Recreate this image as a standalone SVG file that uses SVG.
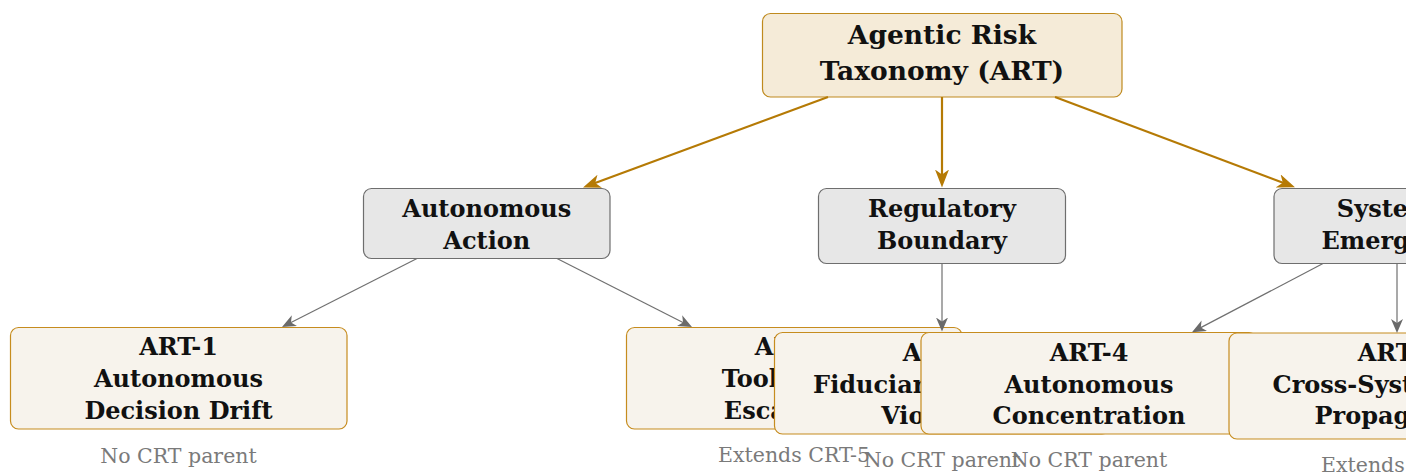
<svg xmlns="http://www.w3.org/2000/svg" width="1406" height="472" viewBox="0 0 1406 472">
  <style>
    .root-box { fill: #F5EBD8; stroke: #BF8A1E; stroke-width: 1.2; }
    .cat-box  { fill: #E7E7E7; stroke: #6E6E6E; stroke-width: 1.2; }
    .risk-box { fill: #F7F3EC; stroke: #C68C1E; stroke-width: 1.2; }
    .title { font-family: "DejaVu Serif", "Liberation Serif", serif; font-weight: bold; fill: #111; text-anchor: middle; }
    .t-root { font-size: 26.5px; }
    .t-node { font-size: 24px; }
    .note { font-family: "DejaVu Serif", "Liberation Serif", serif; font-size: 20.5px; fill: #7A7A7A; text-anchor: middle; }
    .edge-main { stroke: #B57A05; stroke-width: 2.2; fill: none; }
    .edge-sub  { stroke: #707070; stroke-width: 1.2; fill: none; }
  </style>
  <defs>
    <marker id="arrow-gold" viewBox="0 0 18 14" refX="13" refY="7" markerWidth="18" markerHeight="14" markerUnits="userSpaceOnUse" orient="auto">
      <path d="M18,7 L0,0 L5,7 L0,14 Z" fill="#B57A05"/>
    </marker>
    <marker id="arrow-gray" viewBox="0 0 14 12" refX="10" refY="6" markerWidth="14" markerHeight="12" markerUnits="userSpaceOnUse" orient="auto">
      <path d="M14,6 L0,0 L4,6 L0,12 Z" fill="#6A6A6A"/>
    </marker>
  </defs>

  <!-- root -->
  <g id="art-root">
    <rect class="root-box" x="762.5" y="13.5" width="359.5" height="83.5" rx="8"/>
    <text class="title t-root" x="942" y="44">Agentic Risk</text>
    <text class="title t-root" x="942" y="80">Taxonomy (ART)</text>
  </g>

  <!-- categories -->
  <g id="cat-autonomous-action">
    <rect class="cat-box" x="363.5" y="188.5" width="246.5" height="70" rx="8"/>
    <text class="title t-node" x="486.8" y="216.7">Autonomous</text>
    <text class="title t-node" x="486.8" y="249">Action</text>
  </g>
  <g id="cat-regulatory-boundary">
    <rect class="cat-box" x="818.5" y="188.5" width="247" height="75" rx="8"/>
    <text class="title t-node" x="942" y="216.7">Regulatory</text>
    <text class="title t-node" x="942" y="249">Boundary</text>
  </g>
  <g id="cat-systemic-emergence">
    <rect class="cat-box" x="1274" y="188.5" width="247" height="75" rx="8"/>
    <text class="title t-node" x="1397" y="216.7">Systemic</text>
    <text class="title t-node" x="1397" y="249">Emergence</text>
  </g>

  <!-- risks -->
  <g id="art-1">
    <rect class="risk-box" x="10.5" y="327.5" width="336.5" height="101.5" rx="8"/>
    <text class="title t-node" x="178.5" y="355">ART-1</text>
    <text class="title t-node" x="178.5" y="387.3">Autonomous</text>
    <text class="title t-node" x="178.5" y="419.3">Decision Drift</text>
    <text class="note" x="178.5" y="462.5">No CRT parent</text>
  </g>
  <g id="art-2">
    <rect class="risk-box" x="626.5" y="327.5" width="335.5" height="101.5" rx="8"/>
    <text class="title t-node" x="794" y="355">ART-2</text>
    <text class="title t-node" x="794" y="387.3">Tool Scope</text>
    <text class="title t-node" x="794" y="419.3">Escalation</text>
    <text class="note" x="794" y="461.7">Extends CRT-5</text>
  </g>
  <g id="art-3">
    <rect class="risk-box" x="774.5" y="332.5" width="335.5" height="101.5" rx="8"/>
    <text class="title t-node" x="942" y="360.5">ART-3</text>
    <text class="title t-node" x="942" y="392.7">Fiduciary Standard</text>
    <text class="title t-node" x="942" y="424.3">Violation</text>
    <text class="note" x="942" y="466.7">No CRT parent</text>
  </g>
  <g id="art-4">
    <rect class="risk-box" x="921" y="332.5" width="336" height="101.5" rx="8"/>
    <text class="title t-node" x="1089" y="360.5">ART-4</text>
    <text class="title t-node" x="1089" y="392.7">Autonomous</text>
    <text class="title t-node" x="1089" y="424.3">Concentration</text>
    <text class="note" x="1089" y="466.7">No CRT parent</text>
  </g>
  <g id="art-5">
    <rect class="risk-box" x="1229" y="333" width="336" height="106" rx="8"/>
    <text class="title t-node" x="1397" y="360.5">ART-5</text>
    <text class="title t-node" x="1397" y="392.7">Cross-System Risk</text>
    <text class="title t-node" x="1397" y="424.3">Propagation</text>
    <text class="note" x="1397" y="472">Extends CRT-3</text>
  </g>

  <!-- connectors -->
  <g id="connectors">
    <path class="edge-main" d="M828,97 L587.7,185.8" marker-end="url(#arrow-gold)"/>
    <path class="edge-main" d="M942,97 L942,182.5" marker-end="url(#arrow-gold)"/>
    <path class="edge-main" d="M1055,97 L1290.3,185.5" marker-end="url(#arrow-gold)"/>
    <path class="edge-sub" d="M417,258.5 L285.6,325.2" marker-end="url(#arrow-gray)"/>
    <path class="edge-sub" d="M557,258.5 L688.4,325.2" marker-end="url(#arrow-gray)"/>
    <path class="edge-sub" d="M942,263.5 L942,327.5" marker-end="url(#arrow-gray)"/>
    <path class="edge-sub" d="M1323,263.5 L1195.5,330.4" marker-end="url(#arrow-gray)"/>
    <path class="edge-sub" d="M1397,263.5 L1397,329" marker-end="url(#arrow-gray)"/>
  </g>
</svg>
